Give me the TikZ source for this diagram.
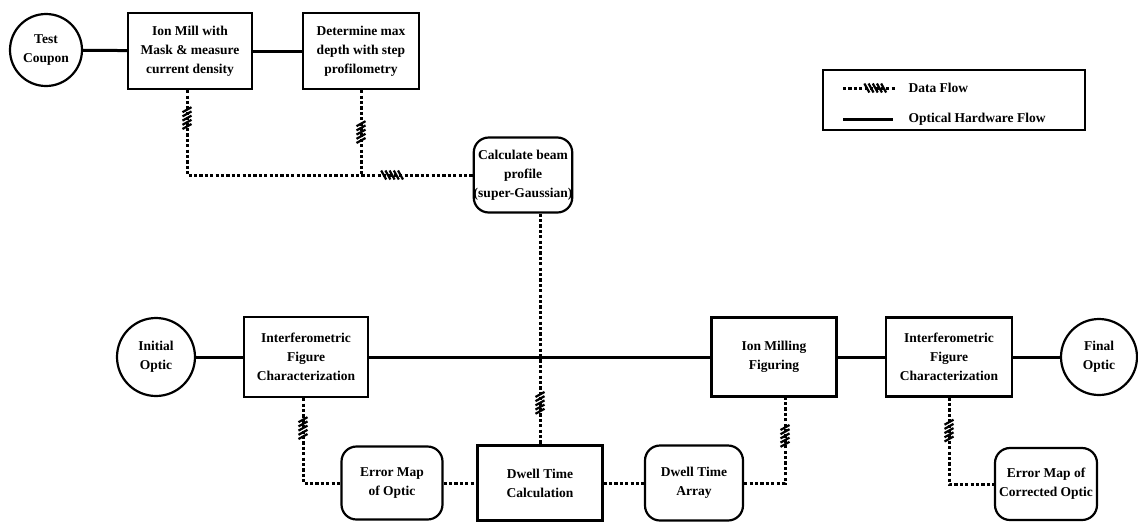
\documentclass[tikz,border=0pt]{standalone}
\usepackage{fontspec}
\setmainfont{Liberation Serif}
\usetikzlibrary{positioning, decorations.markings}

% Hatched mark that sits on the data flow lines
\tikzset{
    hatch/.pic={
        \foreach \i in {-2,...,2}
            \draw[solid, line width=2.2pt] (\i*4.2pt-2.5pt,4.5pt) -- (\i*4.2pt+2.5pt,-4.5pt);
    },
    procbox/.style={draw, line width=2.2pt, inner sep=0pt, align=center},
    databox/.style={procbox, rounded corners=15pt},
    optic/.style={draw, circle, line width=2.2pt, inner sep=0pt, align=center},
    hardware/.style={line width=3pt},
    dataflow/.style={line width=3pt, dash pattern=on 3.2pt off 2.2pt},
    flowmark/.style={postaction={decorate, decoration={markings,
        mark=at position #1 with {\pic[transform shape]{hatch};}}}}
}

\begin{document}
\begin{tikzpicture}[x=1pt, y=-1pt, font=\bfseries\fontsize{13.5}{19}\selectfont]
    \useasboundingbox (0,0) rectangle (1138,523);

    % Top row: calibration on the test coupon
    \node[optic, minimum size=72pt] (coupon) at (46,50) {Test\\Coupon};
    \node[procbox, minimum width=124pt, minimum height=76pt] (ionmill) at (190,51)
        {Ion Mill with\\Mask \&\ measure\\current density};
    \node[procbox, minimum width=116pt, minimum height=76pt] (depth) at (361,51)
        {Determine max\\depth with step\\profilometry};
    \node[databox, minimum width=97pt, minimum height=75pt] (beam) at (523,175)
        {Calculate beam\\profile\\(super-Gaussian)};

    % Middle row: optical hardware flow
    \node[optic, minimum size=78pt] (initial) at (156,357) {Initial\\Optic};
    \node[procbox, minimum width=124pt, minimum height=80pt] (interfA) at (306,357)
        {Interferometric\\Figure\\Characterization};
    \node[procbox, minimum width=125pt, minimum height=79pt] (milling) at (774,357)
        {Ion Milling\\Figuring};
    \node[procbox, minimum width=126pt, minimum height=79pt] (interfB) at (949,357)
        {Interferometric\\Figure\\Characterization};
    \node[optic, minimum size=76pt] (final) at (1099,357) {Final\\Optic};

    % Bottom row: data
    \node[databox, minimum width=101pt, minimum height=73pt] (errmap) at (392,483)
        {Error Map\\of Optic};
    \node[procbox, minimum width=125pt, minimum height=75pt] (dwellcalc) at (540,483)
        {Dwell Time\\Calculation};
    \node[databox, minimum width=98pt, minimum height=75pt] (dwellarray) at (694,483)
        {Dwell Time\\Array};
    \node[databox, minimum width=102pt, minimum height=72pt] (errcorr) at (1046,484)
        {Error Map of\\Corrected Optic};

    % Legend
    \node[draw, line width=1.6pt, minimum width=262pt, minimum height=60pt] (legend) at (954,100) {};
    \coordinate (dataA) at (843,88);
    \coordinate (dataB) at (895,88);
    \coordinate (hwA) at (843,119);
    \coordinate (hwB) at (893,119);
    \draw[dataflow, flowmark=0.62] (dataA) -- (dataB);
    \draw[hardware] (hwA) -- (hwB);
    \node[anchor=west] (datatext) at (905,88) {Data Flow};
    \node[anchor=west] (hwtext) at (905,119) {Optical Hardware Flow};

    % Optical hardware flow
    \draw[hardware] (coupon) -- (ionmill);
    \draw[hardware] (ionmill) -- (depth);
    \draw[hardware] (initial) -- (interfA);
    \draw[hardware] (interfA) -- (milling);
    \draw[hardware] (milling) -- (interfB);
    \draw[hardware] (interfB) -- (final);

    % Data flow
    \draw[dataflow, flowmark=28pt, flowmark=290pt] ([xshift=-3pt]ionmill.south) |- (beam.west);
    \draw[dataflow, flowmark=42pt] (depth.south) -- (depth.south |- beam.west);
    \draw[dataflow, flowmark=0.82] (dwellcalc.north |- beam.south) -- (dwellcalc.north);
    \draw[dataflow, flowmark=30pt] ([xshift=-3pt]interfA.south) |- (errmap.west);
    \draw[dataflow] (errmap) -- (dwellcalc);
    \draw[dataflow] (dwellcalc) -- (dwellarray);
    \draw[dataflow, flowmark=88pt] (dwellarray.east) -| ([xshift=11pt]milling.south);
    \draw[dataflow, flowmark=33pt] (interfB.south) |- (errcorr.west);

\end{tikzpicture}
\end{document}
